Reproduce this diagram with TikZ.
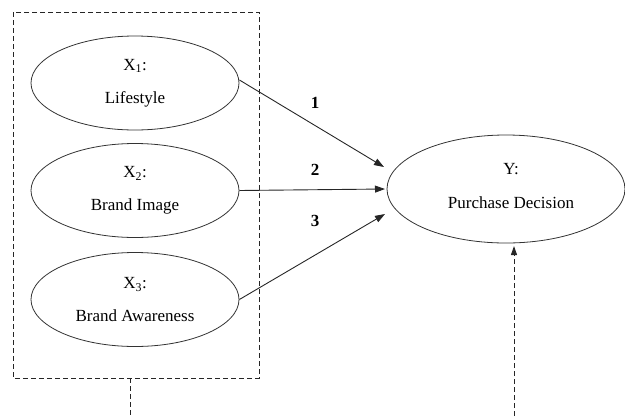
\documentclass[tikz,border=0pt]{standalone}
\usepackage{fontspec}
\setmainfont{Liberation Serif}
\usetikzlibrary{shapes.geometric,arrows.meta}
\begin{document}
\begin{tikzpicture}[x=1pt,y=-1pt,
  var/.style={draw=black!80,line width=0.8pt,ellipse,minimum width=208pt,minimum height=94pt,inner sep=0pt,align=center,font=\fontsize{17}{33}\selectfont},
  txt/.style={align=center,inner sep=0pt,font=\fontsize{17}{34}\selectfont},
  num/.style={inner sep=0pt,font=\fontsize{17}{20}\selectfont\bfseries},
  path/.style={draw=black!85,line width=0.9pt,-{Triangle[length=10pt,width=7pt]}},
  dsh/.style={draw=black!85,line width=1pt,dash pattern=on 5pt off 3pt}]
\useasboundingbox (0,0) rectangle (625,416);
\node[var] (x1) at (135,83) {X\textsubscript{1}:\\Lifestyle};
\node[var] (x2) at (135,190.5) {X\textsubscript{2}:\\Brand Image};
\node[var] (x3) at (135,299.5) {X\textsubscript{3}:\\Brand Awareness};
\node[draw=black!80,line width=0.8pt,ellipse,minimum width=238pt,minimum height=108pt,inner sep=0pt] (y) at (506,189) {};
\node[txt] (ytext) at (511,186) {Y:\\Purchase Decision};
\coordinate (t1) at (384,167);
\coordinate (t2) at (385,189);
\coordinate (t3) at (385,214);
\draw[path] (x1.east) ++(0,-3) coordinate (s1) -- (t1);
\draw[path] (x2.east) -- (t2);
\draw[path] (x3.east) -- (t3);
\node[num] (n1) at (315,103) {1};
\node[num] (n2) at (315,170) {2};
\node[num] (n3) at (315,221) {3};
\draw[dsh] (13,12) coordinate (bxa) rectangle (259,378) coordinate (bxb);
\coordinate (lb) at (130,378);
\coordinate (lbe) at (130,416);
\draw[dsh] (lb) -- (lbe);
\coordinate (rb) at (514,416);
\coordinate (rt) at (514,246);
\draw[dsh,-{Triangle[length=9pt,width=6pt]}] (rb) -- (rt);
\end{tikzpicture}
\end{document}
